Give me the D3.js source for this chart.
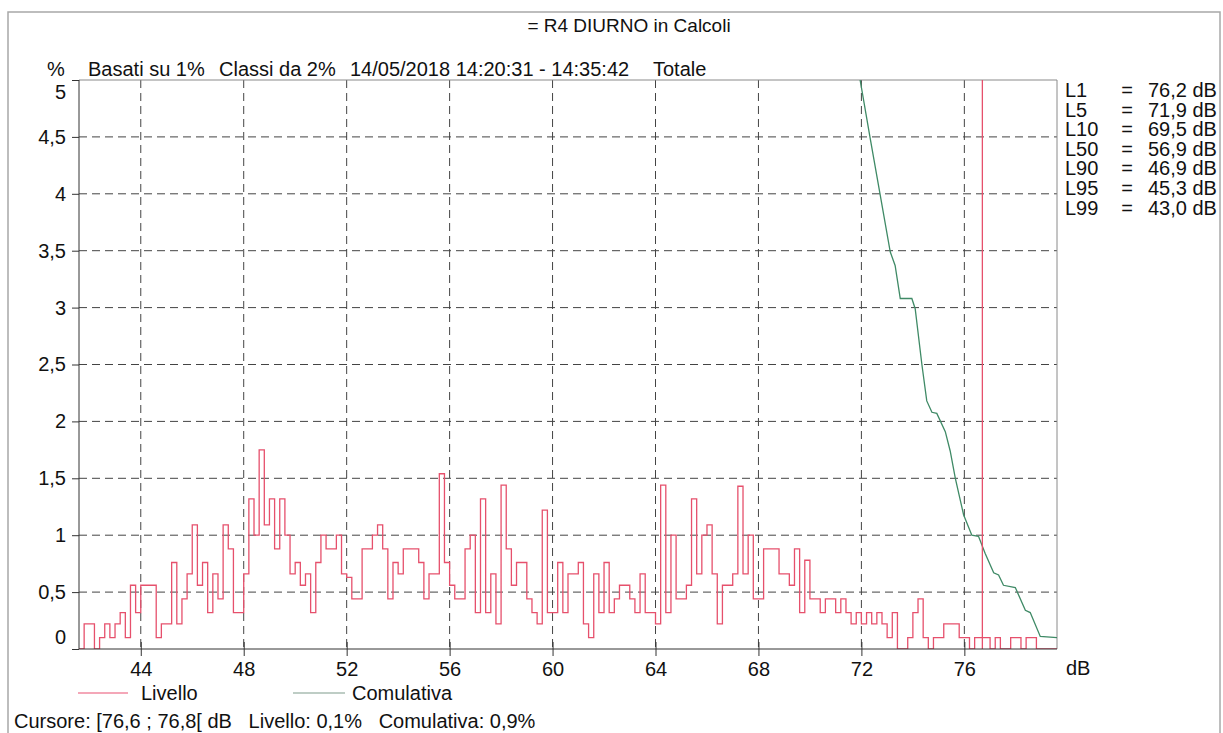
<!DOCTYPE html>
<html><head><meta charset="utf-8">
<script src="https://cdn.jsdelivr.net/npm/d3@7"></script>
<style>
body{margin:0;background:#fff}
svg{display:block}
text{font-family:"Liberation Sans",Arial,sans-serif;font-size:20px;fill:#111}
</style>
</head><body>
<svg id="c" width="1223" height="733"></svg>
<script>
// ---- data ----
const binStart = 41.6;      // first class (dB)
const binWidth = 0.2;       // class width (dB)
const livello = [
 0,0.22,0.22,0,0.10,0.22,0.10,0.22,0.32,0.10,
 0.56,0.32,0.56,0.56,0.56,0.10,0.22,0.22,0.76,0.22,
 0.44,0.66,1.09,0.56,0.76,0.32,0.66,0.44,1.09,0.88,
 0.32,0.32,0.66,1.32,1.00,1.75,1.09,1.32,0.88,1.32,
 1.00,0.66,0.76,0.56,0.66,0.32,0.76,1.00,0.88,0.88,
 1.00,0.66,0.63,0.44,0.44,0.88,0.88,1.00,1.09,0.88,
 0.44,0.76,0.66,0.88,0.88,0.88,0.76,0.44,0.66,0.66,
 1.54,0.76,0.56,0.44,0.44,0.88,1.00,0.32,1.32,0.32,
 0.66,0.22,1.44,0.88,0.56,0.76,0.76,0.44,0.32,0.22,
 1.22,0.32,0.32,0.76,0.32,0.66,0.66,0.76,0.22,0.10,
 0.66,0.32,0.76,0.32,0.44,0.56,0.56,0.44,0.32,0.66,
 0.32,0.32,0.22,1.44,0.32,1.00,0.44,0.44,0.56,1.32,
 0.66,1.00,1.09,0.66,0.22,0.56,0.56,0.66,1.43,0.66,
 1.00,0.44,0.44,0.88,0.88,0.88,0.66,0.66,0.56,0.88,
 0.32,0.78,0.44,0.44,0.32,0.44,0.44,0.32,0.44,0.32,
 0.22,0.32,0.22,0.32,0.22,0.32,0.22,0.10,0.32,0,
 0,0.10,0.32,0.44,0.10,0,0.10,0.10,0.22,0.22,
 0.22,0.10,0.10,0,0.10,0.10,0.10,0,0.10,0,
 0,0.10,0.10,0,0.10,0.10,0,0,0,0
];
const cumDb  = [71.95,72.34,72.73,73.12,73.31,73.51,73.96,74.09,74.35,74.54,74.74,74.93,75.26,75.45,75.65,75.97,76.29,76.55,76.81,77.14,77.33,77.52,77.98,78.37,78.56,78.95,79.6];
const cumPct = [5.0,4.49,3.99,3.49,3.37,3.08,3.08,2.99,2.5,2.18,2.08,2.07,1.91,1.74,1.5,1.18,1.0,0.99,0.84,0.67,0.65,0.56,0.54,0.34,0.32,0.11,0.1];
const xDomain = [41.6, 79.6];
const xTicks = [44,48,52,56,60,64,68,72,76];
const yTicks = [0,0.5,1,1.5,2,2.5,3,3.5,4,4.5,5];
const yTickLabels = ["0","0,5","1","1,5","2","2,5","3","3,5","4","4,5","5"];
const statNames = ["L1","L5","L10","L50","L90","L95","L99"];
const statValues = ["76,2 dB","71,9 dB","69,5 dB","56,9 dB","46,9 dB","45,3 dB","43,0 dB"];
const cursorClass = [76.6, 76.8];
const title = "= R4 DIURNO in Calcoli";
const headerParts = ["Basati su 1%","Classi da 2%","14/05/2018 14:20:31 - 14:35:42","Totale"];
const cursorText = "Cursore: [76,6 ; 76,8[ dB   Livello: 0,1%   Comulativa: 0,9%";
const legendNames = ["Livello","Comulativa"];

// ---- layout ----
const L = 79, R = 1057, T = 80, B = 649;
const RED = "#e6506c", GREEN = "#3f8a66";
const svg = d3.select("#c");
const x = d3.scaleLinear().domain(xDomain).range([L, R]);
const y = d3.scaleLinear().domain([0, 5]).range([B, T]);

// outer frame
svg.append("rect").attr("x",8).attr("y",12).attr("width",1212).attr("height",740)
  .attr("fill","none").attr("stroke","#a8a8a8").attr("stroke-width",1.5);

svg.append("defs").append("clipPath").attr("id","plot")
  .append("rect").attr("x",L).attr("y",T).attr("width",R-L).attr("height",B-T);

// grid
const grid = svg.append("g").attr("stroke","#444").attr("stroke-width",1).attr("stroke-dasharray","8,5");
grid.selectAll(".h").data(yTicks.filter(v=>v>0&&v<5)).join("line")
  .attr("x1",L).attr("x2",R).attr("y1",d=>y(d)).attr("y2",d=>y(d));
grid.selectAll(".v").data(xTicks).join("line")
  .attr("y1",T).attr("y2",B).attr("x1",d=>x(d)).attr("x2",d=>x(d));

// top/right border
svg.append("path").attr("d",`M${L},${T}H${R}V${B}`).attr("fill","none").attr("stroke","#8a8a8a");

// livello step line
const pts = livello.map((v,i)=>[binStart+i*binWidth, v]);
pts.push([binStart+livello.length*binWidth, livello[livello.length-1]]);
svg.append("path").attr("clip-path","url(#plot)")
  .attr("d", d3.line().x(d=>x(d[0])).y(d=>y(d[1])).curve(d3.curveStepAfter)(pts))
  .attr("fill","none").attr("stroke",RED).attr("stroke-width",1.3);

// cumulative line
svg.append("path").attr("clip-path","url(#plot)")
  .attr("d", d3.line().x((d,i)=>x(cumDb[i])).y((d,i)=>y(cumPct[i]))(cumDb))
  .attr("fill","none").attr("stroke",GREEN).attr("stroke-width",1.3);

// cursor
const cx = x((cursorClass[0]+cursorClass[1])/2);
svg.append("line").attr("x1",cx).attr("x2",cx).attr("y1",T).attr("y2",B)
  .attr("stroke",RED).attr("stroke-width",1.3);

// axes
const xa = svg.append("g").attr("transform",`translate(0,${B})`)
  .call(d3.axisBottom(x).tickValues(xTicks).tickSize(7).tickPadding(6).tickFormat(d3.format("d")));
xa.select(".domain").remove();
xa.selectAll(".tick line").attr("y1",-7).attr("y2",7).attr("stroke","#333");
xa.selectAll(".tick text").attr("font-size",null).attr("font-family",null).attr("fill","#111");
xa.attr("font-size",null).attr("font-family",null);

const ya = svg.append("g").attr("transform",`translate(${L},0)`)
  .call(d3.axisLeft(y).tickValues(yTicks).tickSize(7).tickPadding(6).tickFormat((d,i)=>yTickLabels[i]));
ya.select(".domain").remove();
ya.selectAll(".tick line").attr("stroke","#333");
ya.selectAll(".tick text").attr("font-size",null).attr("font-family",null).attr("fill","#111")
  .attr("dy",d=> d===5 ? "0.9em" : d===0 ? "-0.3em" : "0.32em");
ya.attr("font-size",null).attr("font-family",null);

svg.append("path").attr("d",`M${L},${T}V${B}H${R}`).attr("fill","none").attr("stroke","#333");

svg.append("text").attr("x",1066).attr("y",B+26).text("dB");

// title & header
svg.append("text").attr("x",629).attr("y",32).attr("text-anchor","middle").style("font-size","19px").text(title);
svg.append("text").attr("x",47).attr("y",76).text("%");
const hx = [88,219,350,653];
headerParts.forEach((t,i)=>svg.append("text").attr("x",hx[i]).attr("y",76).text(t));

// stats
statNames.forEach((n,i)=>{
  const yy = 97 + i*19.6;
  svg.append("text").attr("x",1065).attr("y",yy).text(n);
  svg.append("text").attr("x",1127).attr("y",yy).attr("text-anchor","middle").text("=");
  svg.append("text").attr("x",1148).attr("y",yy).text(statValues[i]);
});

// legend
svg.append("line").attr("x1",78).attr("x2",128).attr("y1",693).attr("y2",693).attr("stroke","#f08aa0").attr("stroke-width",1.3);
svg.append("text").attr("x",141).attr("y",700).text(legendNames[0]);
svg.append("line").attr("x1",293).attr("x2",345).attr("y1",693).attr("y2",693).attr("stroke","#a9bdb2").attr("stroke-width",1.3);
svg.append("text").attr("x",352).attr("y",700).text(legendNames[1]);

svg.append("text").attr("x",14).attr("y",728).attr("xml:space","preserve").style("white-space","pre").text(cursorText);
</script>
</body></html>
